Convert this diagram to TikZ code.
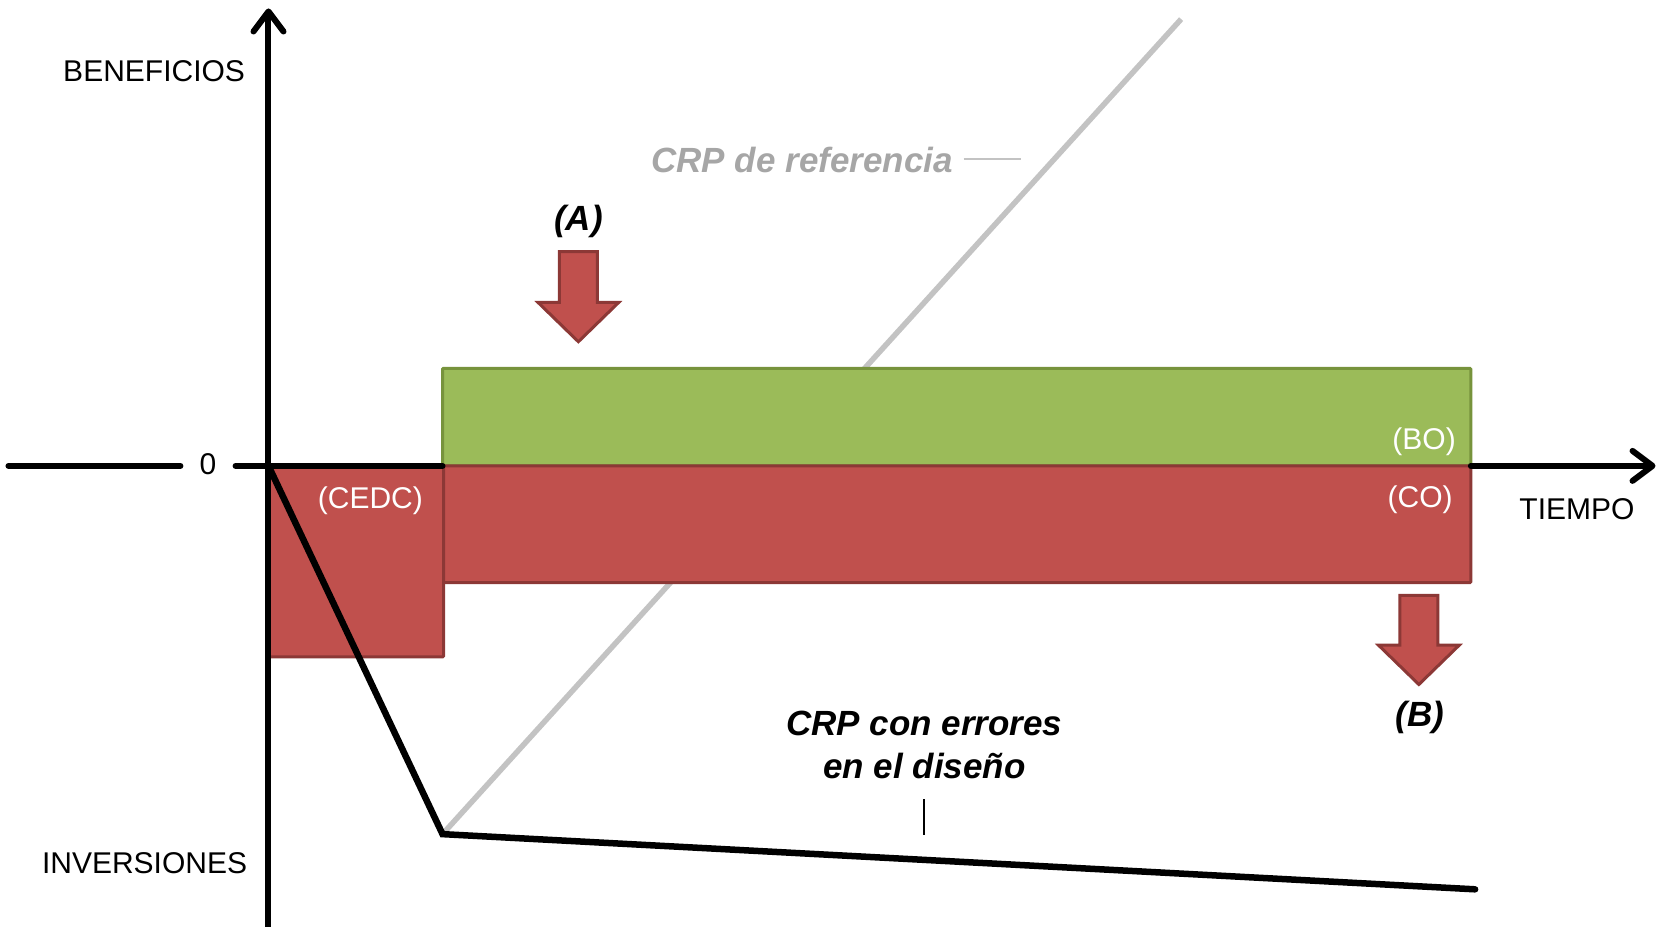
\documentclass[tikz,border=0pt]{standalone}
\usepackage{fontspec}
\setmainfont{Liberation Sans}
\usetikzlibrary{arrows.meta}
\definecolor{grn}{HTML}{9BBB59}
\definecolor{grnb}{HTML}{77933C}
\definecolor{rd}{HTML}{C0504D}
\definecolor{rdb}{HTML}{8C3836}
\definecolor{gline}{HTML}{C3C3C3}
\definecolor{gtext}{HTML}{A6A6A6}
\begin{document}
\begin{tikzpicture}[x=1.0612pt,y=-1.0612pt,
  axisline/.style={line width=6pt, line cap=round},
  axisarrow/.style={axisline, -{Straight Barb[length=20pt,width=30pt,line cap=round,line join=round]}},
  crpline/.style={line width=6.5pt, line cap=round, line join=miter},
  refline/.style={line width=5.5pt, draw=gline},
  benefit/.style={fill=grn, draw=grnb, line width=3pt, rounded corners=1pt},
  cost/.style={fill=rd, draw=rdb, line width=3pt, rounded corners=1pt},
  blockarrow/.style={fill=rd, draw=rdb, line width=3pt, line join=miter},
  lbl/.style={inner sep=0pt, font=\fontsize{30}{36}\selectfont},
  wlbl/.style={lbl, text=white},
  bilbl/.style={inner sep=0pt, font=\fontsize{35}{42.5}\selectfont\bfseries\itshape, align=center}]
\useasboundingbox (0,0) rectangle (1568,873);

% coordinates
\coordinate (o) at (253,439);
\coordinate (ytop) at (253,8);
\coordinate (ybot) at (253,880);
\coordinate (xl1) at (8,439);
\coordinate (xl2) at (170,439);
\coordinate (xr1) at (222,439);
\coordinate (xe) at (417,439);
\coordinate (xb) at (1386,439);
\coordinate (xtip) at (1560,439);
\coordinate (knee) at (417,786);
\coordinate (crpend) at (1390,838);
\coordinate (reftop) at (1113,18);

% reference CRP (behind the blocks)
\draw[refline] (knee) -- (reftop);

% blocks
\draw[benefit] (417,347) rectangle (1386,439);
\draw[cost] (417,439) rectangle (1386,549);
\draw[cost] (253,439) rectangle (418,619);

% axes
\draw[axisline] (xl1) -- (xl2);
\draw[axisline] (xr1) -- (xe);
\draw[axisarrow] (xb) -- (xtip);
\draw[axisarrow] (ybot) -- (ytop);

% CRP with errors
\draw[crpline] (o) -- (knee) -- (crpend);

% block arrows
\draw[blockarrow] (527,237) -- (563,237) -- (563,285) -- (583,285) -- (545,322) -- (507,285) -- (527,285) -- cycle;
\draw[blockarrow] (1319,561) -- (1355,561) -- (1355,608) -- (1375,608) -- (1337,645) -- (1299,608) -- (1319,608) -- cycle;

% labels
\node[lbl, anchor=east] (ben) at (231,67) {BENEFICIOS};
\node[lbl, anchor=east] (inv) at (233,813) {INVERSIONES};
\node[lbl] (zero) at (196,437) {0};
\node[lbl] (tiempo) at (1486,480) {TIEMPO};
\node[wlbl] (cedc) at (349,472) {(CEDC)};
\node[wlbl, anchor=east] (bo) at (1372,416) {(BO)};
\node[wlbl, anchor=east] (co) at (1369,471) {(CO)};
\node[bilbl] (A) at (545,209) {(A)};
\node[bilbl] (B) at (1338,676) {(B)};
\node[bilbl, text=gtext, anchor=east] (ref) at (898,151) {CRP de referencia};
\coordinate (refl1) at (908,150);
\coordinate (refl2) at (962,150);
\draw[draw=gline, line width=2pt] (refl1) -- (refl2);
\node[bilbl, anchor=north] (err) at (871,670) {CRP con errores\\en el diseño};
\coordinate (tick1) at (871,753);
\coordinate (tick2) at (871,787);
\draw[line width=2pt] (tick1) -- (tick2);
\end{tikzpicture}
\end{document}
